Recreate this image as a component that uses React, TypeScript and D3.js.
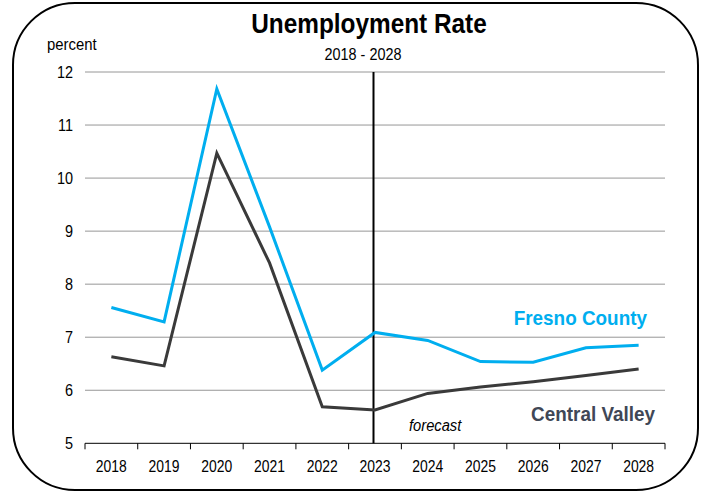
import React from "react";
import * as d3 from "d3";

const years = ["2018","2019","2020","2021","2022","2023","2024","2025","2026","2027","2028"];
const fresno = [7.56, 7.29, 11.68, 9.08, 6.38, 7.09, 6.94, 6.54, 6.53, 6.80, 6.85];
const centralValley = [6.63, 6.46, 10.47, 8.40, 5.69, 5.63, 5.94, 6.06, 6.16, 6.28, 6.40];
const yTicks = [5, 6, 7, 8, 9, 10, 11, 12];
const forecastYear = "2023";

const W = 708, H = 500;
const left = 85, right = 665, top = 72, bottom = 443.3;
const FONT = "'Liberation Sans', Arial, sans-serif";

const sx = (x0: number, s: number) => `translate(${x0},0) scale(${s},1) translate(${-x0},0)`;

export default function App() {
  const x = d3.scaleBand<string>().domain(years).range([left, right]);
  const y = d3.scaleLinear().domain([5, 12]).range([bottom, top]);
  const cx = (d: string) => (x(d) as number) + x.bandwidth() / 2;
  const line = (vals: number[]) =>
    d3.line<number>().x((_, i) => cx(years[i])).y((v) => y(v))(vals) as string;
  const bounds = years.map((d) => x(d) as number).concat([right]);
  const fx = cx(forecastYear) - 1.5;

  return (
    <svg width={W} height={H} style={{ position: "absolute", left: 0, top: 0 }} fontFamily={FONT}>
      <rect x={13} y={3} width={685} height={487} rx={62} ry={62} fill="white" stroke="#000" strokeWidth={2} />
      <text x={369} y={33} textAnchor="middle" fontSize={28} fontWeight="bold" transform={sx(369, 0.87)}>Unemployment Rate</text>
      <text x={363} y={60} textAnchor="middle" fontSize={16} transform={sx(363, 0.9)}>2018 - 2028</text>
      <text x={47} y={50} fontSize={16} transform={sx(47, 0.93)}>percent</text>
      {yTicks.map((t) => (
        <g key={t}>
          {t > 5 && <line x1={left} x2={right} y1={y(t)} y2={y(t)} stroke="#969696" strokeWidth={1} />}
          <text x={73} y={y(t) + 6} textAnchor="end" fontSize={17} transform={sx(73, 0.85)}>{t}</text>
        </g>
      ))}
      <line x1={left} x2={right} y1={bottom} y2={bottom} stroke="#000" strokeWidth={1} />
      {bounds.map((b, i) => (
        <line key={i} x1={b} x2={b} y1={bottom} y2={bottom + 6} stroke="#000" strokeWidth={1} />
      ))}
      {years.map((d) => (
        <text key={d} x={cx(d)} y={472} textAnchor="middle" fontSize={17} transform={sx(cx(d), 0.82)}>{d}</text>
      ))}
      <line x1={fx} x2={fx} y1={top} y2={bottom} stroke="#000" strokeWidth={2} />
      <path d={line(fresno)} fill="none" stroke="#00AEEF" strokeWidth={3} strokeLinejoin="miter" />
      <path d={line(centralValley)} fill="none" stroke="#3A3A3A" strokeWidth={3} strokeLinejoin="miter" />
      <text x={647} y={325} textAnchor="end" fontSize={21} fontWeight="bold" fill="#00AEEF" transform={sx(647, 0.9)}>Fresno County</text>
      <text x={655} y={421} textAnchor="end" fontSize={21} fontWeight="bold" fill="#404756" transform={sx(655, 0.9)}>Central Valley</text>
      <text x={409} y={431} fontSize={16} fontStyle="italic" transform={sx(409, 0.92)}>forecast</text>
    </svg>
  );
}
